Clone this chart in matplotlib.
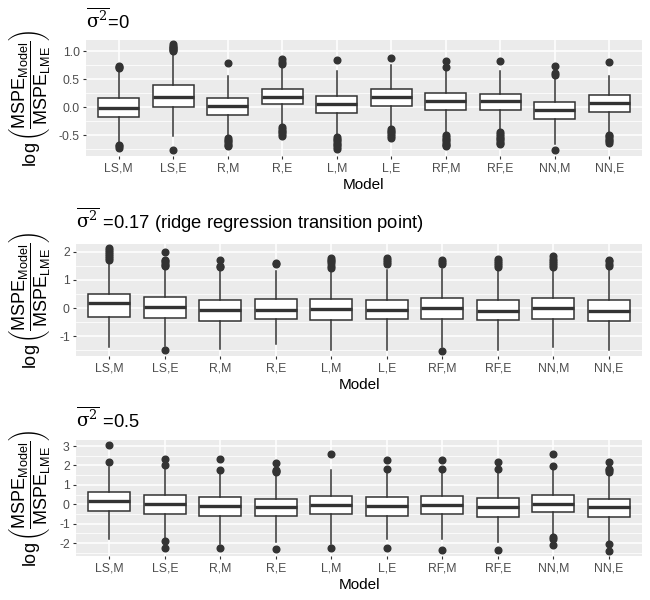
import matplotlib
matplotlib.use('Agg')
import matplotlib.pyplot as plt
from matplotlib.ticker import MultipleLocator, FormatStrFormatter

plt.rcParams['font.family'] = ['Liberation Sans', 'DejaVu Sans']
plt.rcParams['mathtext.fontset'] = 'custom'
plt.rcParams['mathtext.rm'] = 'Liberation Sans'
plt.rcParams['mathtext.it'] = 'Liberation Sans:italic'
plt.rcParams['mathtext.bf'] = 'Liberation Sans:bold'
plt.rcParams['mathtext.sf'] = 'Liberation Sans'
plt.rcParams['axes.unicode_minus'] = False

models = ['LS,M', 'LS,E', 'R,M', 'R,E', 'L,M', 'L,E', 'RF,M', 'RF,E', 'NN,M', 'NN,E']

# ---- Panel 1: sigma^2 = 0 ----
p1_med = [-0.01, 0.19, 0.03, 0.19, 0.06, 0.18, 0.11, 0.11, -0.05, 0.08]
p1_q1 = [-0.17, 0.00, -0.13, 0.05, -0.11, 0.02, -0.05, -0.05, -0.21, -0.08]
p1_q3 = [0.17, 0.39, 0.17, 0.33, 0.20, 0.33, 0.25, 0.24, 0.10, 0.21]
p1_lo = [-0.64, -0.52, -0.52, -0.35, -0.52, -0.38, -0.49, -0.45, -0.66, -0.49]
p1_hi = [0.64, 0.98, 0.55, 0.73, 0.64, 0.76, 0.67, 0.65, 0.55, 0.56]
p1_out = [
    [0.70, 0.72, 0.74, -0.68, -0.70, -0.72],
    [1.00, 1.02, 1.04, 1.06, 1.08, 1.10, 1.12, -0.77],
    [0.79, -0.55, -0.58, -0.61, -0.64, -0.67, -0.70],
    [0.77, 0.80, 0.86, -0.36, -0.39, -0.42, -0.45, -0.48, -0.51],
    [0.85, -0.53, -0.56, -0.59, -0.62, -0.65, -0.68, -0.71, -0.74],
    [0.87, -0.39, -0.42, -0.45, -0.48, -0.51, -0.54],
    [0.71, 0.83, -0.50, -0.53, -0.56, -0.59, -0.62, -0.65, -0.68, -0.70],
    [0.82, -0.45, -0.48, -0.51, -0.54, -0.57, -0.60, -0.63, -0.65],
    [0.58, 0.61, 0.74, -0.76],
    [0.80, -0.49, -0.52, -0.55, -0.58, -0.61, -0.64],
]

# ---- Panel 2: sigma^2 = 0.17 ----
p2_med = [0.17, 0.05, -0.08, -0.08, -0.05, -0.08, -0.01, -0.09, 0.01, -0.11]
p2_q1 = [-0.30, -0.34, -0.45, -0.39, -0.43, -0.40, -0.38, -0.44, -0.39, -0.45]
p2_q3 = [0.50, 0.40, 0.30, 0.31, 0.32, 0.30, 0.36, 0.30, 0.36, 0.28]
p2_lo = [-1.38, -1.36, -1.46, -1.28, -1.50, -1.50, -1.38, -1.50, -1.38, -1.50]
p2_hi = [1.68, 1.45, 1.35, 1.32, 1.40, 1.35, 1.38, 1.35, 1.35, 1.35]
p2_out = [
    [1.72, 1.78, 1.85, 1.92, 2.00, 2.06, 2.12],
    [1.48, 1.54, 1.60, 1.66, 1.71, 2.00, -1.48],
    [1.45, 1.50, 1.71],
    [1.55, 1.58],
    [1.42, 1.50, 1.58, 1.65, 1.72, 1.78],
    [1.55, 1.62, 1.70, 1.78],
    [1.55, 1.62, 1.70, -1.52],
    [1.45, 1.52, 1.60, 1.68, 1.75],
    [1.45, 1.52, 1.60, 1.68, 1.75, 1.83],
    [1.50, 1.57, 1.65, 1.72],
]

# ---- Panel 3: sigma^2 = 0.5 ----
p3_med = [0.17, 0.02, -0.10, -0.14, -0.03, -0.09, -0.03, -0.14, 0.03, -0.14]
p3_q1 = [-0.34, -0.48, -0.59, -0.62, -0.53, -0.59, -0.53, -0.64, -0.41, -0.64]
p3_q3 = [0.64, 0.45, 0.36, 0.28, 0.41, 0.36, 0.41, 0.31, 0.50, 0.29]
p3_lo = [-1.81, -1.81, -2.03, -1.95, -2.03, -1.81, -1.81, -1.95, -1.60, -1.95]
p3_hi = [1.90, 1.93, 1.59, 1.59, 1.76, 1.64, 1.64, 1.64, 1.81, 1.59]
p3_out = [
    [3.03, 2.17],
    [2.31, 2.00, -1.90, -2.24],
    [2.31, 1.78, -2.24],
    [2.14, 1.76, 1.70, 1.64, -2.29],
    [2.57, -2.24],
    [2.28, 1.83, -2.24],
    [2.28, 1.84, -2.34],
    [2.19, 1.81, -2.36],
    [2.60, 1.97, -1.69, -1.81, -2.12],
    [2.19, 1.81, 1.74, 1.67, -2.05, -2.41],
]

titles = [r'$\overline{\mathrm{\sigma}^2}$=0',
          r'$\overline{\mathrm{\sigma}^2}$ =0.17 (ridge regression transition point)',
          r'$\overline{\mathrm{\sigma}^2}$ =0.5']
ylabel = r'$\log\left(\dfrac{\mathrm{MSPE}_{\mathrm{Model}}}{\mathrm{MSPE}_{\mathrm{LME}}}\right)$'

panels = [
    (p1_med, p1_q1, p1_q3, p1_lo, p1_hi, p1_out),
    (p2_med, p2_q1, p2_q3, p2_lo, p2_hi, p2_out),
    (p3_med, p3_q1, p3_q3, p3_lo, p3_hi, p3_out),
]

W, H = 650, 600
fig = plt.figure(figsize=(6.5, 6.0), dpi=100)

# pixel boxes: left, top, right, bottom
boxes = [(86, 40, 642, 156), (76, 244, 642, 356), (76, 440, 642, 556)]
ylims = [(-0.87, 1.20), (-1.70, 2.27), (-2.67, 3.31)]
majors = [0.5, 1, 1]
fmts = ['%.1f', '%d', '%d']
title_pads = [8.0, 10.8, 8.5]

dark = '#333333'
for i, (pan, box) in enumerate(zip(panels, boxes)):
    l, t, r, b = box
    ax = fig.add_axes([l / W, 1 - b / H, (r - l) / W, (b - t) / H])
    med, q1, q3, lo, hi, out = pan
    stats = []
    for k in range(len(models)):
        stats.append(dict(med=med[k], q1=q1[k], q3=q3[k], whislo=lo[k], whishi=hi[k],
                          fliers=out[k], label=models[k]))
    ax.set_facecolor('#EBEBEB')
    for s in ax.spines.values():
        s.set_visible(False)
    ax.set_axisbelow(True)
    ax.yaxis.set_major_locator(MultipleLocator(majors[i]))
    ax.yaxis.set_minor_locator(MultipleLocator(majors[i] / 2))
    ax.yaxis.set_major_formatter(FormatStrFormatter(fmts[i]))
    ax.grid(which='major', color='white', linewidth=1.1)
    ax.grid(which='minor', axis='y', color='white', linewidth=0.55)
    ax.bxp(stats, positions=list(range(1, len(models) + 1)), widths=0.75,
           patch_artist=True, showcaps=False,
           boxprops=dict(facecolor='white', edgecolor=dark, linewidth=1.1),
           medianprops=dict(color=dark, linewidth=2.4),
           whiskerprops=dict(color=dark, linewidth=1.1),
           flierprops=dict(marker='o', markerfacecolor=dark, markeredgecolor=dark,
                           markersize=4.8, linestyle='none'))
    ax.set_xlim(0.4, len(models) + 0.6)
    ax.set_ylim(*ylims[i])
    ax.set_xticks(list(range(1, len(models) + 1)))
    ax.set_xticklabels(models)
    ax.tick_params(which='major', length=2.5, width=0.8, color=dark,
                   labelcolor='#4D4D4D', labelsize=8.8, pad=2)
    ax.tick_params(which='minor', length=0)
    ax.set_xlabel('Model', fontsize=11, color='black', labelpad=3)
    ax.set_ylabel(ylabel, fontsize=13, color='black', va='center', math_fontfamily='custom')
    ax.yaxis.set_label_coords((29 - l) / (r - l), 0.5)
    ax.set_title(titles[i], loc='left', fontsize=13.2, pad=title_pads[i], color='black',
                 math_fontfamily='dejavuserif')

fig.savefig('out.png', dpi=100)
